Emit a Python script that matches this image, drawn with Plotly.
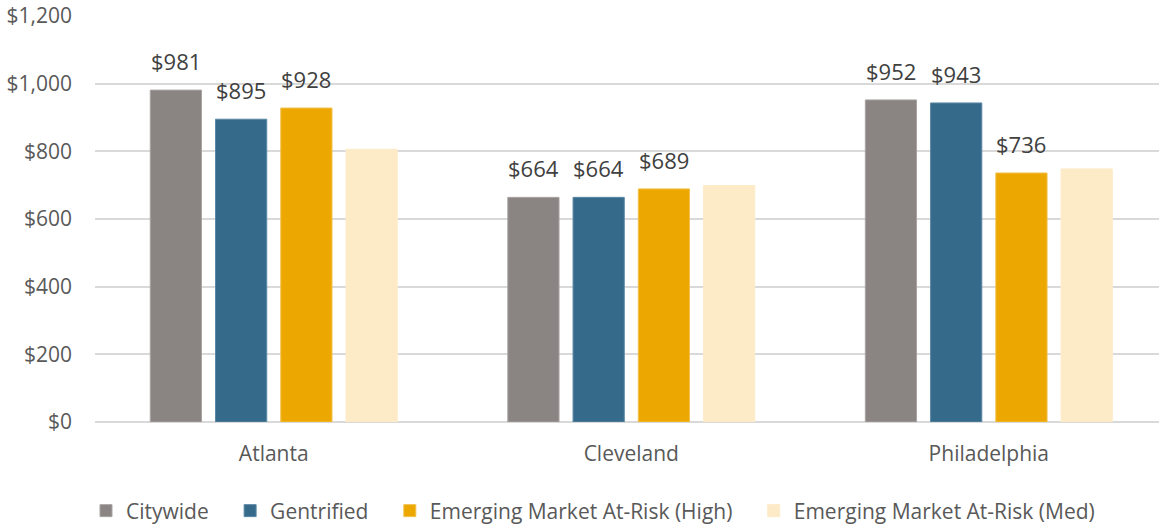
import plotly.graph_objects as go

cities = ["Atlanta", "Cleveland", "Philadelphia"]
series_names = ["Citywide", "Gentrified", "Emerging Market At-Risk (High)", "Emerging Market At-Risk (Med)"]
citywide = [981, 664, 952]
gentrified = [895, 664, 943]
em_high = [928, 689, 736]
em_med = [806, 699, 748]
show_labels = [True, True, True, False]
colors = ["#8A8483", "#366A8A", "#ECA800", "#FDEBC8"]
line_colors = ["#A9A4A3", "#5B88A5", "#F2C14D", "#FDEBC8"]

values = [citywide, gentrified, em_high, em_med]
FONT = "Open Sans, Noto Sans, sans-serif"
PAD = "\u00a0" * 3  # extra spacing between legend entries

fig = go.Figure()
for k, (name, vals, c, lc) in enumerate(zip(series_names, values, colors, line_colors)):
    fig.add_trace(go.Bar(
        x=cities, y=vals, name=name + (PAD if k < len(series_names) - 1 else ""),
        marker=dict(color=c, line=dict(color=lc, width=1)),
        hoverinfo="skip",
    ))

# data labels placed above bars (Excel-style gap)
slot_px = 65
for i, (vals, show) in enumerate(zip(values, show_labels)):
    if not show:
        continue
    for city, v in zip(cities, vals):
        fig.add_annotation(
            x=city, y=v, text=f"${v:,}", showarrow=False,
            xanchor="center", yanchor="bottom",
            xshift=(i - 1.5) * slot_px, yshift=12,
            font=dict(family=FONT, size=22, color="#404040"),
        )

fig.update_layout(
    width=1159, height=527,
    margin=dict(l=95, r=0, t=16, b=105),
    paper_bgcolor="white", plot_bgcolor="white",
    barmode="group", bargap=0.27, bargroupgap=0.215,
    font=dict(family=FONT, size=21, color="#595959"),
    showlegend=True,
    legend=dict(orientation="h", xref="container", yref="container",
                x=0.0742, xanchor="left", y=0.0304, yanchor="middle",
                font=dict(family=FONT, size=21, color="#595959"), itemwidth=30,
                traceorder="normal"),
)
fig.update_yaxes(range=[0, 1200], dtick=200, tickprefix="$", tickformat=",",
                 showgrid=True, gridcolor="#D9D9D9", gridwidth=1.5,
                 zeroline=True, zerolinecolor="#D9D9D9", zerolinewidth=1.5,
                 showline=False, ticks="", ticklabelstandoff=22, automargin=False,
                 ticklabeloverflow="allow",
                 tickfont=dict(family=FONT, size=21, color="#595959"))
# the original plot area runs slightly past the right edge of the image
fig.update_xaxes(showline=False, ticks="", automargin=False,
                 range=[-0.5, 2.476],
                 tickfont=dict(family=FONT, size=21, color="#595959"),
                 ticklabelstandoff=17)

fig.write_html("out.html", config={"displayModeBar": False},
               post_script="document.body.style.margin='0';document.body.style.overflow='hidden';")
